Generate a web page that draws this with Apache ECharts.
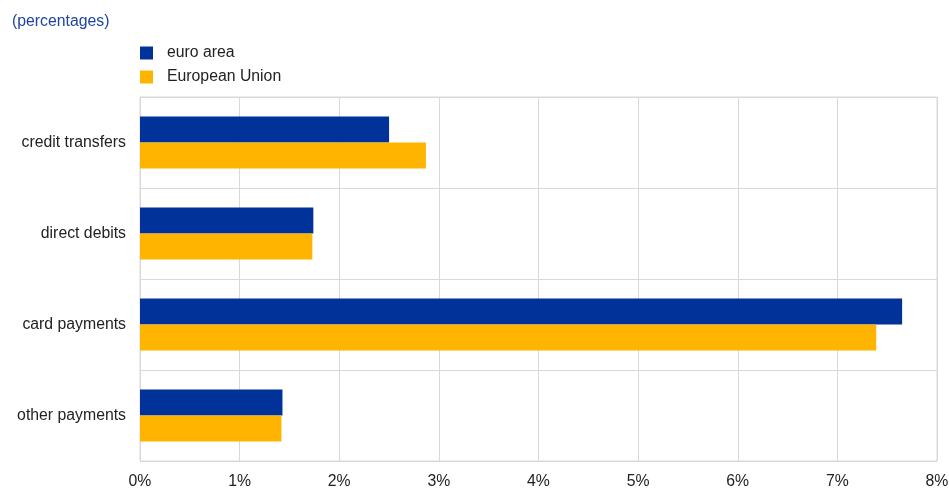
<!DOCTYPE html>
<html>
<head>
<meta charset="utf-8">
<script src="https://cdn.jsdelivr.net/npm/echarts@6/dist/echarts.min.js"></script>
<style>
  html, body { margin: 0; padding: 0; background: #fff; }
  #main { width: 949px; height: 489px; }
</style>
</head>
<body>
<div id="main"></div>
<script>
const categories = ['credit transfers', 'direct debits', 'card payments', 'other payments'];
const euroArea = [2.50, 1.74, 7.65, 1.43];
const europeanUnion = [2.87, 1.73, 7.39, 1.42];
const seriesNames = ['euro area', 'European Union'];

const chart = echarts.init(document.getElementById('main'));

const option = {
  animation: false,
  textStyle: { fontFamily: 'Liberation Sans, Arial, sans-serif' },
  title: {
    text: '(percentages)',
    left: 7,
    top: 9,
    textStyle: { fontSize: 15.8, fontWeight: 'normal', color: '#1f44a0' }
  },
  legend: {
    data: seriesNames,
    orient: 'vertical',
    left: 135,
    top: 40,
    itemWidth: 13,
    itemHeight: 13,
    itemGap: 8,
    icon: 'rect',
    textStyle: { fontSize: 15.8, color: '#222', lineHeight: 14, padding: [0, 0, 0, 9] }
  },
  grid: {
    left: 140,
    right: 12,
    top: 97,
    bottom: 28,
    outerBoundsMode: 'none',
    show: true,
    borderColor: '#d9d9d9',
    borderWidth: 1
  },
  xAxis: {
    type: 'value',
    min: 0,
    max: 8,
    interval: 1,
    axisLine: { show: false },
    axisTick: { show: false },
    axisLabel: { formatter: '{value}%', fontSize: 15.8, color: '#222', margin: 13 },
    splitLine: { lineStyle: { color: '#d9d9d9' } }
  },
  yAxis: {
    type: 'category',
    data: categories,
    inverse: true,
    axisLine: { lineStyle: { color: '#d9d9d9' } },
    axisTick: { show: false },
    axisLabel: { fontSize: 15.8, color: '#222', margin: 14 },
    splitLine: { show: true, lineStyle: { color: '#d9d9d9' } }
  },
  series: [
    {
      name: seriesNames[0],
      type: 'bar',
      data: euroArea,
      itemStyle: { color: '#003299' },
      barGap: '0%',
      barCategoryGap: '43%'
    },
    {
      name: seriesNames[1],
      type: 'bar',
      data: europeanUnion,
      itemStyle: { color: '#ffb400' },
      barGap: '0%',
      barCategoryGap: '43%'
    }
  ]
};

chart.setOption(option);
</script>
</body>
</html>
